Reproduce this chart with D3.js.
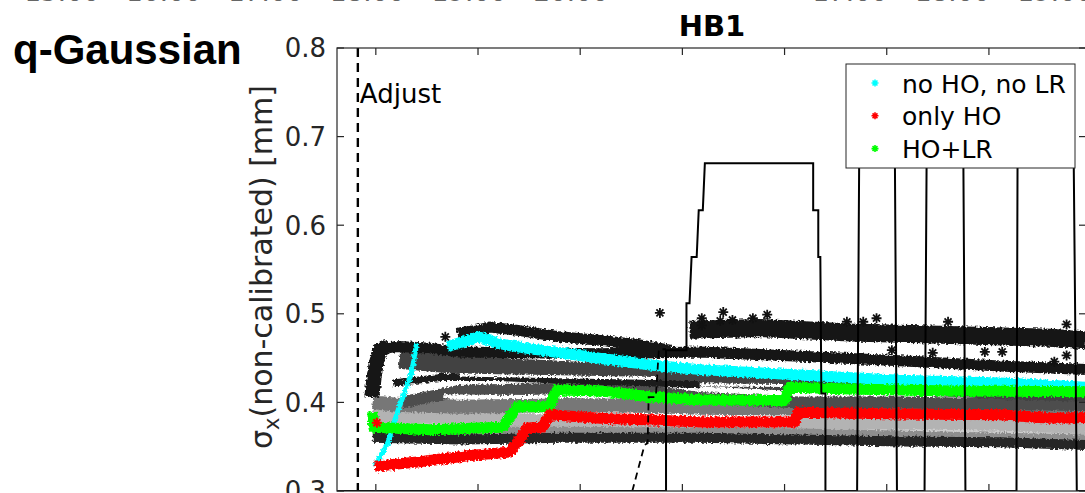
<!DOCTYPE html>
<html>
<head>
<meta charset="utf-8">
<script src="https://cdn.jsdelivr.net/npm/d3@7/dist/d3.min.js"></script>
<style>
  html, body { margin: 0; padding: 0; background: #fff; }
  svg { display: block; }
</style>
</head>
<body>
<svg id="chart" width="1085" height="493"></svg>
<script>
// ---- time axis: hours after the first tick of the run ----
const xTicks = [0, 1, 2, 3, 4, 5, 6, 7];
const yTicks = [0.3, 0.4, 0.5, 0.6, 0.7, 0.8];
const yTickLabels = ["0.3", "0.4", "0.5", "0.6", "0.7", "0.8"];

// tick labels of the panel row above (only their lower edge shows)
const upperLeftHours = [15, 16, 17, 18, 19, 20];
const upperRightHours = [17, 18, 19];

const adjustTime = -0.176;

// ---- beam size series [t (h), sigma_x (mm)] ----
const noHoNoLrRamp = [[-0.01, 0.328], [0.12, 0.355], [0.22, 0.392], [0.35, 0.433], [0.40, 0.467]];
const noHoNoLr = [[0.70, 0.463], [0.90, 0.470], [1.00, 0.474], [1.07, 0.472], [1.21, 0.466], [1.48, 0.461],
  [1.80, 0.456], [2.12, 0.451], [2.71, 0.442], [3.17, 0.437], [4.15, 0.431], [5.13, 0.425], [6.11, 0.422], [6.95, 0.417]];
const onlyHo = [[-0.01, 0.328], [0.43, 0.333], [0.92, 0.340], [1.31, 0.344], [1.41, 0.358], [1.48, 0.371],
  [1.63, 0.372], [1.70, 0.386], [2.19, 0.382], [2.71, 0.380], [3.17, 0.378], [4.10, 0.378], [4.13, 0.389],
  [5.13, 0.387], [6.11, 0.386], [6.60, 0.382], [6.95, 0.383]];
const onlyHoStart = [[0.01, 0.377]];
const hoLr = [[-0.03, 0.389], [-0.02, 0.372], [0.53, 0.369], [1.02, 0.371], [1.24, 0.372], [1.38, 0.395],
  [1.70, 0.395], [1.77, 0.414], [2.19, 0.413], [2.71, 0.406], [3.17, 0.403], [4.00, 0.402], [4.05, 0.417],
  [4.64, 0.415], [5.62, 0.413], [6.95, 0.412]];

// other wires / fits, dark to light
const blackUpper = [[0.80, 0.478], [0.97, 0.481], [1.12, 0.485], [1.41, 0.481], [1.80, 0.474], [2.19, 0.470], [2.58, 0.465], [2.88, 0.459]];
const blackScatter = [[3.07, 0.482], [3.76, 0.484], [4.64, 0.479], [5.62, 0.476], [6.60, 0.473], [6.95, 0.470]];
const blackStart = [[-0.04, 0.406], [-0.02, 0.425], [0.00, 0.442], [0.04, 0.459], [0.12, 0.464]];
const blackMain = [[0.04, 0.461], [0.23, 0.463], [0.53, 0.461], [0.82, 0.457], [1.41, 0.456], [2.19, 0.455],
  [3.17, 0.457], [4.15, 0.452], [5.13, 0.447], [6.11, 0.441], [6.95, 0.437]];
const blackThin = [[0.17, 0.422], [0.63, 0.428], [1.21, 0.428], [1.80, 0.425], [2.71, 0.422], [3.17, 0.420]];
const grayDark1 = [[0.23, 0.448], [0.82, 0.442], [1.80, 0.437], [2.71, 0.431], [3.17, 0.428], [4.15, 0.423],
  [5.13, 0.419], [6.11, 0.414], [6.95, 0.411]];
const grayDark2 = [[0.26, 0.400], [0.82, 0.413], [1.21, 0.414], [1.80, 0.415], [2.71, 0.412], [3.17, 0.405],
  [4.15, 0.400], [5.13, 0.400], [6.11, 0.398], [6.95, 0.397]];
const grayMid = [[-0.03, 0.400], [0.23, 0.397], [0.82, 0.395], [1.80, 0.397], [2.71, 0.396], [3.17, 0.394],
  [4.15, 0.393], [5.13, 0.392], [6.95, 0.390]];
const grayLight = [[-0.03, 0.384], [0.82, 0.384], [1.80, 0.377], [2.71, 0.375], [4.15, 0.376], [5.13, 0.378], [6.11, 0.376], [6.95, 0.372]];
const grayLighter = [[-0.03, 0.374], [1.80, 0.371], [4.15, 0.369], [6.95, 0.366]];
const grayMed = [[-0.03, 0.367], [1.80, 0.367], [4.15, 0.365], [6.95, 0.358]];
const grayBottom = [[-0.03, 0.360], [0.82, 0.358], [1.80, 0.360], [3.17, 0.360], [4.15, 0.358], [5.13, 0.356], [6.11, 0.355], [6.95, 0.352]];
const whiteUpper = [[0.82, 0.431], [1.80, 0.429], [2.75, 0.427]];
const whiteLower = [[0.66, 0.407], [1.50, 0.406], [2.12, 0.408]];
const whiteRight = [[3.17, 0.420], [3.98, 0.419]];

// isolated fit results
const outliers = [[0.68, 0.474], [2.78, 0.501], [3.19, 0.495], [3.19, 0.487], [3.40, 0.502], [3.37, 0.492],
  [3.49, 0.493], [3.69, 0.495], [3.83, 0.499], [4.61, 0.491], [4.77, 0.491], [4.90, 0.495], [5.60, 0.491],
  [6.76, 0.488], [5.05, 0.459], [5.45, 0.456], [5.96, 0.457], [6.13, 0.457], [6.64, 0.446], [6.76, 0.453]];

// machine setting trace (solid) and its reference (dashed)
const settingSolid = [[-0.38, 0.3], [2.84, 0.3], [2.84, 0.459], [3.04, 0.459], [3.04, 0.512], [3.07, 0.512],
  [3.09, 0.564], [3.14, 0.564], [3.16, 0.617], [3.20, 0.617], [3.22, 0.67], [4.28, 0.67], [4.28, 0.617],
  [4.33, 0.617], [4.33, 0.564], [4.35, 0.564], [4.36, 0.41], [4.40, 0.41], [4.40, 0.3], [4.71, 0.3],
  [4.73, 0.67], [5.08, 0.67], [5.10, 0.3], [5.37, 0.3], [5.39, 0.67], [5.75, 0.67], [5.77, 0.3], [6.27, 0.3],
  [6.28, 0.67], [6.83, 0.67], [6.86, 0.3], [6.95, 0.3]];
const settingDashed = [[2.51, 0.30], [2.63, 0.352], [2.66, 0.354], [2.67, 0.406], [2.74, 0.406], [2.77, 0.46], [2.84, 0.46]];

const legendNames = ["no HO, no LR", "only HO", "HO+LR"];
const legendColors = ["#00ffff", "#ff0000", "#00ff00"];

// ---- layout ----
const svg = d3.select("#chart");
const plotLeft = 337, plotRight = 1086, plotTop = 48, plotBottom = 491;
const x = d3.scaleLinear().domain([-0.38, 6.95]).range([plotLeft, plotRight]);
const y = d3.scaleLinear().domain([0.3, 0.8]).range([plotBottom, plotTop]);
const axisColor = "#262626";
const font = "'DejaVu Sans', sans-serif";

const defs = svg.append("defs");
defs.append("clipPath").attr("id", "plotClip")
  .append("rect").attr("x", plotLeft).attr("y", plotTop)
  .attr("width", plotRight - plotLeft).attr("height", plotBottom - plotTop);
const rough = defs.append("filter").attr("id", "rough")
  .attr("x", "-2%").attr("y", "-20%").attr("width", "104%").attr("height", "140%");
rough.append("feTurbulence").attr("type", "fractalNoise").attr("baseFrequency", "0.45")
  .attr("numOctaves", 2).attr("seed", 7).attr("result", "noise");
rough.append("feDisplacementMap").attr("in", "SourceGraphic").attr("in2", "noise")
  .attr("scale", 5).attr("xChannelSelector", "R").attr("yChannelSelector", "G");

// header texts
const upperLeft = d3.scaleLinear().domain([15, 20]).range([62, 571]);
const upperRight = d3.scaleLinear().domain([17, 19]).range([850, 1055]);
const upperG = svg.append("g").attr("font-family", font).attr("font-size", 26).attr("fill", "#666").attr("text-anchor", "middle");
upperLeftHours.forEach(h => upperG.append("text").attr("x", upperLeft(h)).attr("y", 0.5).text(h + ":00"));
upperRightHours.forEach(h => upperG.append("text").attr("x", upperRight(h)).attr("y", 0.5).text(h + ":00"));

svg.append("text").attr("x", 13).attr("y", 64)
  .attr("font-family", "'Liberation Sans', Arial, sans-serif").attr("font-weight", "bold")
  .attr("font-size", 42).attr("fill", "#000").text("q-Gaussian");

svg.append("text").attr("x", 712).attr("y", 36).attr("text-anchor", "middle")
  .attr("font-family", font).attr("font-weight", "bold").attr("font-size", 29).attr("fill", "#000").text("HB1");

// ---- data ----
const plot = svg.append("g").attr("clip-path", "url(#plotClip)");
const line = d3.line().x(d => x(d[0])).y(d => y(d[1]));
const bands = plot.append("g").attr("filter", "url(#rough)");

function band(data, color, width) {
  bands.append("path").datum(data).attr("d", line)
    .attr("fill", "none").attr("stroke", color).attr("stroke-width", width)
    .attr("stroke-linejoin", "round").attr("stroke-linecap", "butt");
}

band(grayLighter, "#cdcdcd", 12);
band(grayLight, "#b3b3b3", 14);
band(grayMed, "#8e8e8e", 10);
band(grayMid, "#777777", 14);
band(grayDark2, "#4d4d4d", 12);
band(grayDark1, "#424242", 18);
band(blackThin, "#1c1c1c", 7);
band(grayBottom, "#262626", 10);
band(whiteUpper, "#ffffff", 3);
band(whiteLower, "#ffffff", 4);
band(whiteRight, "#ffffff", 3);
band(blackMain, "#151515", 11);
band(blackStart, "#151515", 15);
band(blackUpper, "#151515", 11);
band(blackScatter, "#151515", 18);
band(noHoNoLrRamp, legendColors[0], 5);
band(noHoNoLr, legendColors[0], 11);
band(hoLr, legendColors[2], 11);
band(onlyHo, legendColors[1], 11);

function asterisk(r) {
  const a = r * 0.7;
  return `M${-r},0L${r},0M0,${-r}L0,${r}M${-a},${-a}L${a},${a}M${-a},${a}L${a},${-a}`;
}

plot.append("g").selectAll("path").data(outliers).join("path")
  .attr("transform", d => `translate(${x(d[0])},${y(d[1])})`)
  .attr("d", asterisk(5)).attr("stroke", "#111").attr("stroke-width", 1.8).attr("fill", "none");
plot.append("g").selectAll("path").data(onlyHoStart).join("path")
  .attr("transform", d => `translate(${x(d[0])},${y(d[1])})`)
  .attr("d", asterisk(5)).attr("stroke", legendColors[1]).attr("stroke-width", 2).attr("fill", "none");

plot.append("path").datum(settingDashed).attr("d", line)
  .attr("fill", "none").attr("stroke", "#000").attr("stroke-width", 1.8).attr("stroke-dasharray", "7,5");
plot.append("path").datum(settingSolid).attr("d", line)
  .attr("fill", "none").attr("stroke", "#000").attr("stroke-width", 2);

// adjustment marker
plot.append("line").attr("x1", x(adjustTime)).attr("x2", x(adjustTime)).attr("y1", plotTop).attr("y2", plotBottom)
  .attr("stroke", "#000").attr("stroke-width", 2.4).attr("stroke-dasharray", "9,6");
svg.append("text").attr("x", x(adjustTime) + 2).attr("y", 103)
  .attr("font-family", font).attr("font-size", 26).attr("fill", "#000").text("Adjust");

// ---- axes ----
const tickLen = 7;
const axisG = svg.append("g").attr("stroke", axisColor).attr("stroke-width", 1.2);
axisG.append("rect").attr("x", plotLeft).attr("y", plotTop)
  .attr("width", plotRight - plotLeft).attr("height", plotBottom - plotTop).attr("fill", "none");
xTicks.forEach(t => {
  const px = x(t);
  if (px > plotRight) return;
  axisG.append("line").attr("x1", px).attr("x2", px).attr("y1", plotTop).attr("y2", plotTop + tickLen);
  axisG.append("line").attr("x1", px).attr("x2", px).attr("y1", plotBottom).attr("y2", plotBottom - tickLen);
});
yTicks.forEach(v => {
  const py = y(v);
  axisG.append("line").attr("x1", plotLeft).attr("x2", plotLeft + tickLen).attr("y1", py).attr("y2", py);
  axisG.append("line").attr("x1", plotRight).attr("x2", plotRight - tickLen).attr("y1", py).attr("y2", py);
});
const yLab = svg.append("g").attr("font-family", font).attr("font-size", 26).attr("fill", axisColor)
  .attr("text-anchor", "end");
yTicks.forEach((v, i) => {
  yLab.append("text").attr("x", plotLeft - 11).attr("y", y(v)).attr("dy", "0.36em").text(yTickLabels[i]);
});

const yTitle = svg.append("text").attr("transform", "translate(272,267) rotate(-90)")
  .attr("text-anchor", "middle").attr("font-family", font).attr("font-size", 30).attr("fill", axisColor);
yTitle.append("tspan").text("σ");
yTitle.append("tspan").attr("font-size", 21).attr("dy", 7).text("x");
yTitle.append("tspan").attr("dy", -7).text("(non-calibrated) [mm]");

// ---- legend ----
const lg = svg.append("g");
lg.append("rect").attr("x", 846).attr("y", 64).attr("width", 229).attr("height", 104)
  .attr("fill", "#fff").attr("stroke", axisColor).attr("stroke-width", 1);
legendNames.forEach((name, i) => {
  const cy = 83 + i * 32.8;
  lg.append("path").attr("transform", `translate(875,${cy})`).attr("d", asterisk(3.5))
    .attr("stroke", legendColors[i]).attr("stroke-width", 1.6).attr("fill", "none");
  lg.append("text").attr("x", 902).attr("y", cy + 9.5).attr("font-family", font).attr("font-size", 25)
    .attr("fill", "#000").text(name);
});
</script>
</body>
</html>
